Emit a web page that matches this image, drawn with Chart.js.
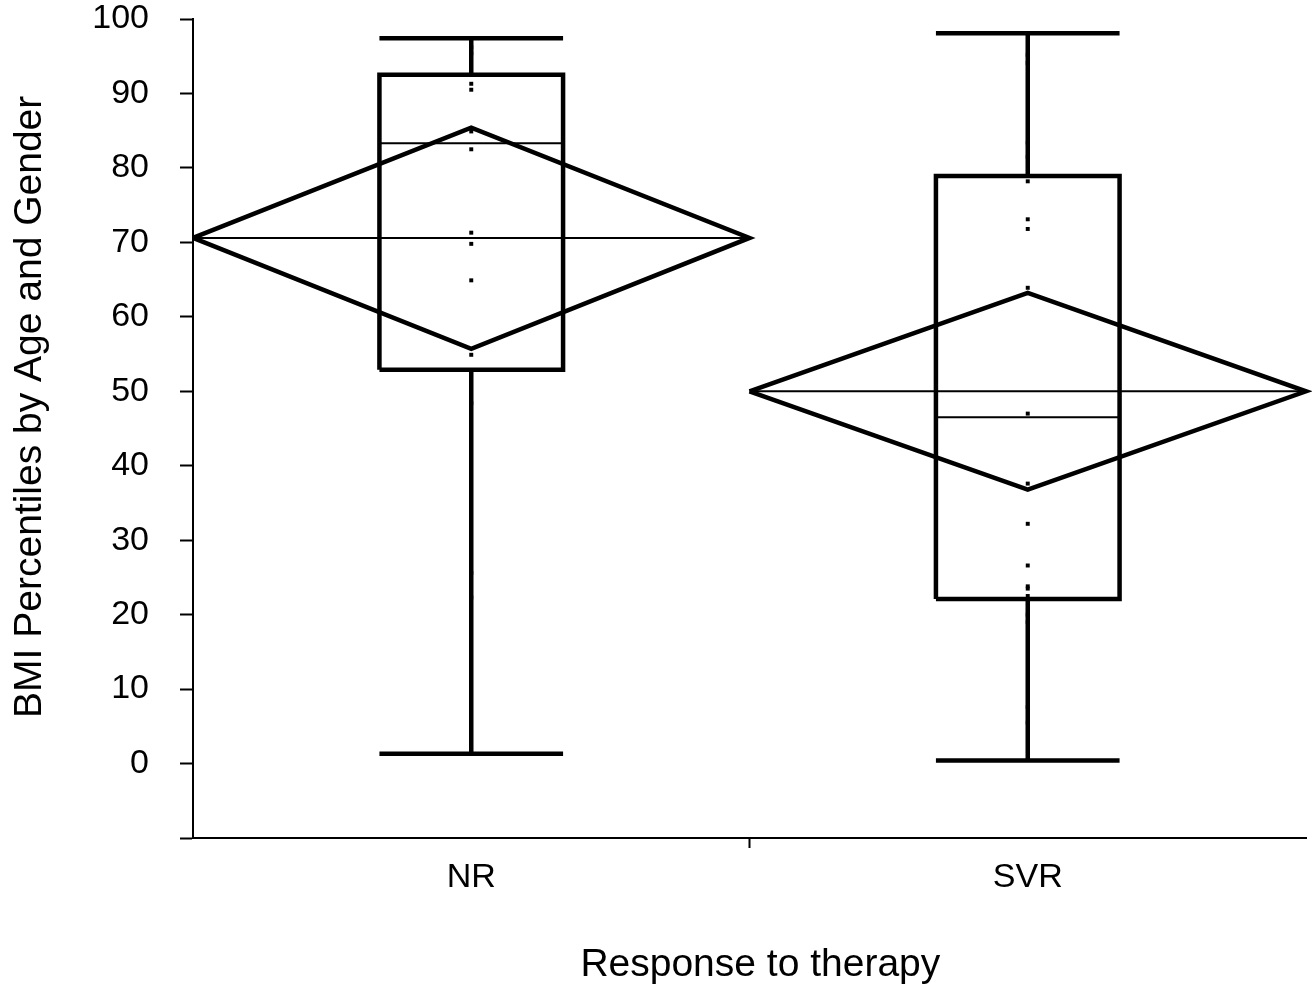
<!DOCTYPE html>
<html>
<head>
<meta charset="utf-8">
<title>BMI percentiles by response to therapy</title>
<script src="https://cdn.jsdelivr.net/npm/chart.js@4.4.1/dist/chart.umd.min.js"></script>
<style>
  html, body { margin: 0; padding: 0; background: #fff; }
  #wrap { width: 1315px; height: 990px; }
</style>
</head>
<body>
<div id="wrap"><canvas id="bmiChart"></canvas></div>
<script>
// values (BMI percentile)
const groups = ["NR", "SVR"];
const whiskerLow = [1.3, 0.4];
const quartile1 = [52.9, 22.1];
const medians = [83.3, 46.5];
const quartile3 = [92.5, 78.9];
const whiskerHigh = [97.4, 98.1];
const means = [70.6, 50.0];
const meanUpper = [85.4, 63.2];
const meanLower = [55.7, 36.8];
const pointsNR = [96.2, 95.4, 91.3, 90.5, 84.9, 82.5, 71.3, 69.8, 64.9, 54.9, 48.4, 25.6, 22.3];
const pointsSVR = [95.2, 94.1, 83.4, 81.5, 78.2, 73.1, 71.8, 63.9, 47.0, 37.6, 32.2, 26.6,
  23.8, 23.5, 22.5, 20.0, 19.0, 7.6, 5.5];
const yMin = -10;
const yMax = 100;
const yStep = 10;

const BOX_HALF = 0.165;
const GAP = { x: null, y: null };
const FONT = "'Liberation Sans', Arial, sans-serif";

function boxData() {
  const d = [];
  groups.forEach((g, i) => {
    d.push(
      { x: i - BOX_HALF, y: quartile1[i] },
      { x: i - BOX_HALF, y: quartile3[i] },
      { x: i + BOX_HALF, y: quartile3[i] },
      { x: i + BOX_HALF, y: quartile1[i] },
      { x: i - BOX_HALF, y: quartile1[i] },
      GAP
    );
  });
  return d;
}

function whiskerData() {
  const d = [];
  groups.forEach((g, i) => {
    d.push({ x: i, y: quartile3[i] }, { x: i, y: whiskerHigh[i] }, GAP);
    d.push({ x: i - BOX_HALF, y: whiskerHigh[i] }, { x: i + BOX_HALF, y: whiskerHigh[i] }, GAP);
    d.push({ x: i, y: quartile1[i] }, { x: i, y: whiskerLow[i] }, GAP);
    d.push({ x: i - BOX_HALF, y: whiskerLow[i] }, { x: i + BOX_HALF, y: whiskerLow[i] }, GAP);
  });
  return d;
}

function medianData() {
  const d = [];
  groups.forEach((g, i) => {
    d.push({ x: i - BOX_HALF, y: medians[i] }, { x: i + BOX_HALF, y: medians[i] }, GAP);
  });
  return d;
}

function diamondData() {
  const d = [];
  groups.forEach((g, i) => {
    d.push(
      { x: i - 0.5, y: means[i] },
      { x: i, y: meanUpper[i] },
      { x: i + 0.5, y: means[i] },
      { x: i, y: meanLower[i] },
      { x: i - 0.5, y: means[i] },
      GAP
    );
  });
  return d;
}

function meanLineData() {
  const d = [];
  groups.forEach((g, i) => {
    d.push({ x: i - 0.5, y: means[i] }, { x: i + 0.5, y: means[i] }, GAP);
  });
  return d;
}

function pointData() {
  return [
    ...pointsNR.map((v) => ({ x: 0, y: v })),
    ...pointsSVR.map((v) => ({ x: 1, y: v })),
  ];
}

function lineSet(label, data, width) {
  return {
    label: label,
    data: data,
    showLine: true,
    spanGaps: false,
    borderColor: "#000",
    borderWidth: width,
    borderJoinStyle: "miter",
    borderCapStyle: "butt",
    pointRadius: 0,
    fill: false,
    tension: 0,
    clip: 6,
  };
}

const ctx = document.getElementById("bmiChart").getContext("2d");

new Chart(ctx, {
  type: "scatter",
  data: {
    datasets: [
      {
        label: "observations",
        data: pointData(),
        pointStyle: "rect",
        pointRadius: 2.8,
        pointBorderWidth: 0,
        pointBackgroundColor: "#000",
        showLine: false,
      },
      lineSet("mean", meanLineData(), 2),
      lineSet("median", medianData(), 2),
      lineSet("whiskers", whiskerData(), 4.5),
      lineSet("box", boxData(), 4.5),
      lineSet("mean diamond", diamondData(), 4.5),
    ],
  },
  options: {
    responsive: true,
    maintainAspectRatio: false,
    animation: false,
    layout: { padding: { top: 19, right: 9, bottom: 0, left: 0 } },
    plugins: {
      legend: { display: false },
      tooltip: { enabled: false },
    },
    scales: {
      x: {
        type: "linear",
        min: -0.5,
        max: 1.5,
        afterBuildTicks: (s) => {
          s.ticks = [0, 0.5, 1].map((v) => ({ value: v }));
        },
        afterFit: (s) => {
          s.height = 152;
          s.paddingLeft = 0;
          s.paddingRight = 0;
        },
        ticks: {
          autoSkip: false,
          maxRotation: 0,
          padding: 9,
          color: "#000",
          font: { family: FONT, size: 34 },
          callback: (v) => (Number.isInteger(v) ? groups[v] : ""),
        },
        grid: {
          drawOnChartArea: false,
          tickLength: 10,
          tickWidth: 2,
          tickColor: (c) => (c.tick && c.tick.value === 0.5 ? "#000" : "rgba(0,0,0,0)"),
        },
        border: { color: "#000", width: 2 },
        title: {
          display: true,
          text: "  Response to therapy",
          color: "#000",
          font: { family: FONT, size: 39 },
          padding: { top: 0, bottom: 1 },
        },
      },
      y: {
        min: yMin,
        max: yMax,
        afterFit: (s) => {
          s.width = 193;
          s.paddingTop = 0;
          s.paddingBottom = 0;
        },
        ticks: {
          stepSize: yStep,
          padding: 31,
          color: "#000",
          font: { family: FONT, size: 34 },
          callback: (v) => (v < 0 ? "" : v),
        },
        grid: {
          drawOnChartArea: false,
          tickLength: 13,
          tickWidth: 2,
          tickColor: "#000",
        },
        border: { color: "#000", width: 2 },
        title: {
          display: true,
          text: "    BMI Percentiles by Age and Gender",
          color: "#000",
          font: { family: FONT, size: 39 },
          padding: { top: 7, bottom: 0 },
        },
      },
    },
  },
});
</script>
</body>
</html>
